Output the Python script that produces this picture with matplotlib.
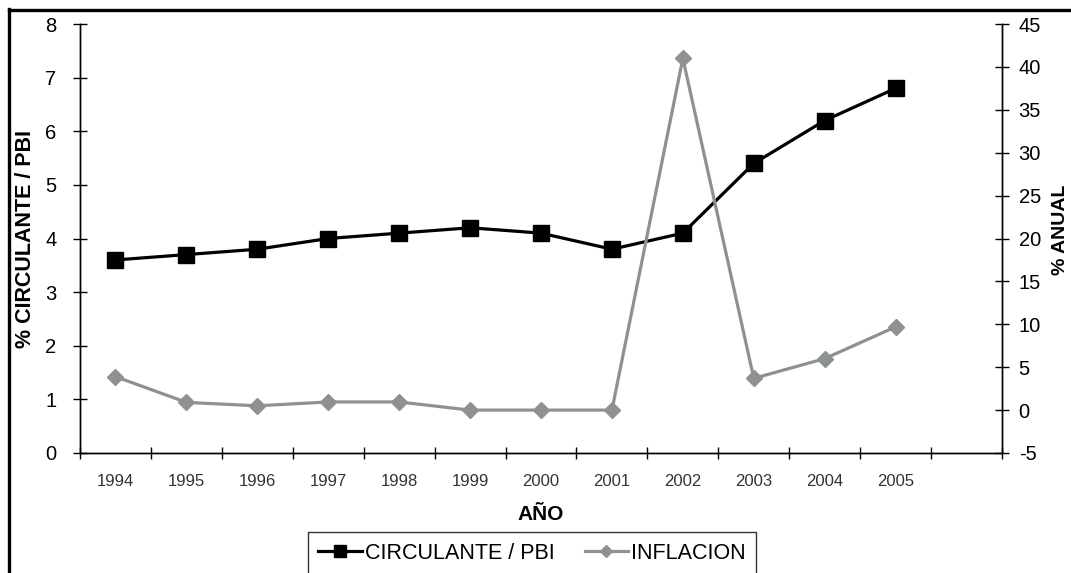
import matplotlib
matplotlib.use('Agg')
import matplotlib.pyplot as plt
from matplotlib.lines import Line2D
import numpy as np

plt.rcParams['font.family'] = ['Liberation Sans', 'DejaVu Sans']
plt.rcParams['axes.unicode_minus'] = False

years = ['1994', '1995', '1996', '1997', '1998', '1999',
         '2000', '2001', '2002', '2003', '2004', '2005']
circulante = [3.6, 3.7, 3.8, 4.0, 4.1, 4.2, 4.1, 3.8, 4.1, 5.4, 6.2, 6.8]
inflacion = [3.9, 0.9, 0.5, 0.95, 0.95, 0.0, 0.0, 0.0, 41.0, 3.7, 6.0, 9.7]

x = np.arange(len(years))
n_slots = len(years) + 1   # one empty slot at the right end

fig = plt.figure(figsize=(10.71, 5.73), dpi=100)
ax = fig.add_axes([80/1071, 120/573, 922/1071, 429/573])
ax2 = ax.twinx()

# series
ax.plot(x, circulante, color='black', lw=2.3, marker='s', ms=11,
        label='CIRCULANTE / PBI', zorder=3)
ax2.plot(x, inflacion, color='#8e928e', lw=2.3, marker='D', ms=8,
         label='INFLACION', zorder=3)

# x axis: ticks on category boundaries, labels at centres
ax.set_xlim(-0.5, n_slots - 0.5)
ax.set_xticks(np.arange(-0.5, n_slots, 1.0))
ax.set_xticklabels([])
ax.set_xticks(x, minor=True)
ax.set_xticklabels(years, minor=True)
ax.tick_params(axis='x', which='major', direction='inout', length=9, width=1)
ax.tick_params(axis='x', which='minor', length=0, pad=15, labelsize=12,
               labelcolor='#333333')

ax.set_ylim(0, 8)
ax.set_yticks(range(0, 9))
ax.tick_params(axis='y', direction='inout', length=10, width=1, labelsize=14.5, pad=12)

ax2.set_ylim(-5, 45)
ax2.set_yticks(range(-5, 50, 5))
ax2.tick_params(axis='y', direction='inout', length=10, width=1, labelsize=14.5, pad=7)

for a in (ax, ax2):
    a.spines['top'].set_visible(False)
    for s in ('left', 'right', 'bottom'):
        a.spines[s].set_linewidth(1)

ax.set_xlabel('AÑO', fontsize=15, fontweight='bold')
ax.xaxis.set_label_coords(0.5, -0.122)
ax.set_ylabel('% CIRCULANTE / PBI', fontsize=15.5, fontweight='bold')
ax.yaxis.set_label_coords(-0.048, 0.5)
ax2.set_ylabel('% ANUAL', fontsize=14, fontweight='bold', rotation=90)
ax2.yaxis.set_label_coords(1.054, 0.52)

# legend below the axes
h1, l1 = ax.get_legend_handles_labels()
h2, l2 = ax2.get_legend_handles_labels()
leg = fig.legend(h1 + h2, l1 + l2, loc='upper center',
                 bbox_to_anchor=(532/1071, 41/573), borderaxespad=0,
                 ncol=2, fontsize=15.5, frameon=True, fancybox=False,
                 edgecolor='black', handlelength=2.0, handletextpad=0.15,
                 columnspacing=1.4, borderpad=0.5, markerscale=0.75)
leg.get_frame().set_linewidth(1)

# outer border of the original picture (top and left only)
fig.add_artist(Line2D([8.5/1071, 8.5/1071], [0, 1 - 9/573], color='black', lw=2.4))
fig.add_artist(Line2D([8.5/1071, 1], [1 - 9.5/573, 1 - 9.5/573], color='black', lw=2.4))

fig.savefig('out.png', dpi=100)
